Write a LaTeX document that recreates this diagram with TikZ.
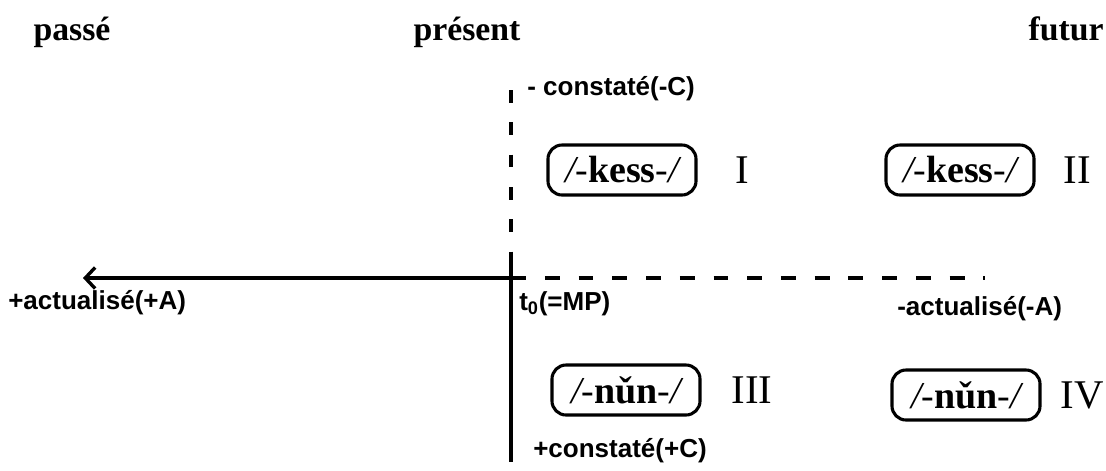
\documentclass[tikz,border=0pt]{standalone}
\usepackage{fontspec}
\setmainfont{Liberation Serif}
\newfontfamily\labfont{Liberation Sans}
\usetikzlibrary{arrows.meta}

\tikzset{
    head/.style={font=\fontsize{24}{26}\selectfont\bfseries, anchor=base},
    lab/.style={font=\labfont\fontsize{18.5}{20}\selectfont\bfseries, anchor=base west, inner sep=0pt},
    morph/.style={draw, line width=2.2pt, rounded corners=10pt, minimum width=3.7cm, minimum height=1.25cm, font=\fontsize{27}{29}\selectfont},
    quad/.style={font=\fontsize{29}{31}\selectfont},
    axis/.style={line width=2.4pt},
}

\begin{document}
\begin{tikzpicture}[x=0.025cm, y=-0.025cm]
        \useasboundingbox (0,0) rectangle (1106,470);
        % time points
        \node[head] (passe) at (72,40) {passé};
        \node[head] (present) at (467,40) {présent};
        \node[head] (futur) at (1066,40) {futur};
        %
        \coordinate (O) at (511,278);
        \coordinate (top) at (511,90);
        \coordinate (mid) at (511,262);
        \coordinate (bot) at (511,462);
        \coordinate (left) at (83,278);
        \coordinate (right) at (985,278);
        \draw[axis, dash pattern=on 9pt off 14pt] (top) -- (mid);
        \draw[axis] (mid) -- (bot);
        \draw[axis, -{Straight Barb[length=7pt, width=15pt]}] (O) -- (left);
        \draw[axis, dash pattern=on 10.5pt off 13.5pt] (O) -- (right);
        %
        \node[lab] (cneg) at (527,95) {- constaté(-C)};
        \node[lab] (tzero) at (519,310) {t\textsubscript{0}(=MP)};
        \node[lab] (apos) at (8,309) {+actualisé(+A)};
        \node[lab] (aneg) at (897,315) {-actualisé(-A)};
        \node[lab] (cpos) at (533,457) {+constaté(+C)};
        %
        \node[morph] (kessI) at (622,170) {\itshape /-\upshape\bfseries kess\mdseries\itshape -/};
        \node[quad] (qI) at (742,170) {I};
        \node[morph] (kessII) at (960,170) {\itshape /-\upshape\bfseries kess\mdseries\itshape -/};
        \node[quad] (qII) at (1077,170) {II};
        \node[morph] (nunIII) at (626,390) {\itshape /-\upshape\bfseries nǔn\mdseries\itshape -/};
        \node[quad] (qIII) at (752,390) {III};
        \node[morph] (nunIV) at (966,395) {\itshape /-\upshape\bfseries nǔn\mdseries\itshape -/};
        \node[quad] (qIV) at (1082,395) {IV};
\end{tikzpicture}
\end{document}
